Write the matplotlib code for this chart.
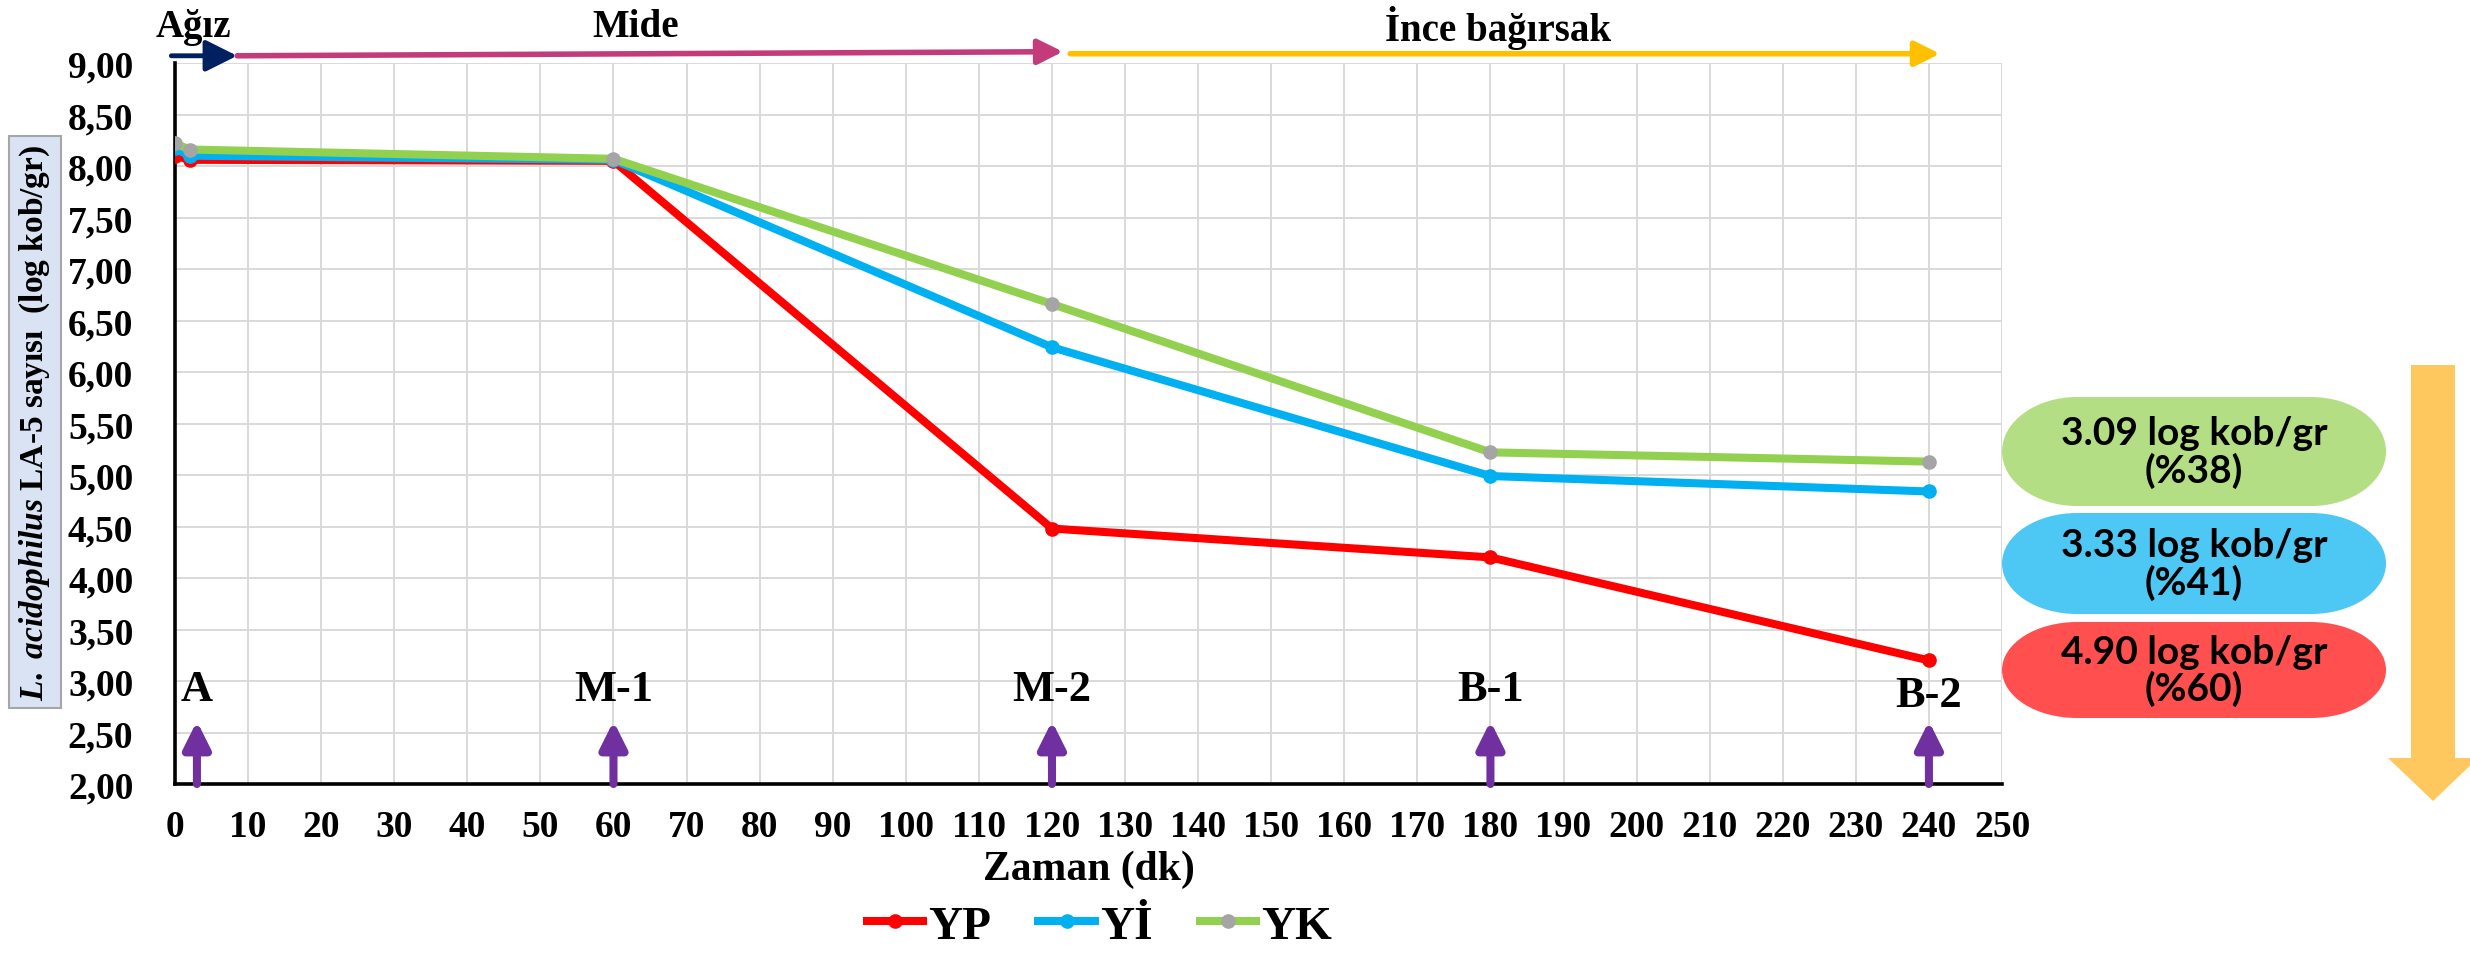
import numpy as np
import matplotlib
matplotlib.use("Agg")
from matplotlib import pyplot as plt
from matplotlib.lines import Line2D
from matplotlib.patches import Ellipse, Rectangle, Polygon

plt.rcParams["mathtext.fontset"] = "custom"
plt.rcParams["mathtext.it"] = "Liberation Serif:italic:bold"
plt.rcParams["mathtext.rm"] = "Liberation Serif:bold"

# sampling times (dk) and L. acidophilus LA-5 counts (log kob/gr)
zaman = [0, 2, 60, 120, 180, 240]
yp = [8.10, 8.06, 8.05, 4.48, 4.20, 3.20]
yi = [8.17, 8.10, 8.06, 6.24, 4.99, 4.84]
yk = [8.22, 8.16, 8.07, 6.66, 5.22, 5.13]

seri_adlari = ["YP", "Yİ", "YK"]
asama_x = [3, 60, 120, 180, 240]
asama_adi = ["A", "M-1", "M-2", "B-1", "B-2"]
kutu_metin = ["3.09 log kob/gr\n(%38)", "3.33 log kob/gr\n(%41)", "4.90 log kob/gr\n(%60)"]

xticks = np.arange(0, 251, 10)
yticks = np.arange(2.0, 9.01, 0.5)
ytick_labels = ["{:.2f}".format(v).replace(".", ",") for v in yticks]

serif = "Liberation Serif"
red, blue, green, grey = "#FF0000", "#00B0F0", "#92D050", "#A5A5A5"

W, H = 2470, 954
fig = plt.figure(figsize=(W / 100, H / 100), dpi=100)
ax = fig.add_axes([175 / W, 1 - 785 / H, (2002 - 175) / W, (785 - 64) / H])

lw, ms = 5.8, 9.5
ax.plot(zaman, yp, color=red, lw=lw, marker="o", ms=ms, zorder=3)
ax.plot(zaman, yi, color=blue, lw=lw, marker="o", ms=ms, zorder=4)
ax.plot(zaman, yk, color=green, lw=lw, marker="o", ms=ms, mfc=grey, mec=grey, zorder=5)

ax.set_xlim(0, 250)
ax.set_ylim(2, 9)
ax.set_xticks(xticks)
ax.set_yticks(yticks)
ax.set_yticklabels(ytick_labels)
ax.grid(True, color="#D9D9D9", lw=1.4)
ax.set_axisbelow(True)
for s in ["top", "right"]:
    ax.spines[s].set_visible(False)
for s in ["left", "bottom"]:
    ax.spines[s].set_linewidth(2.6)
ax.tick_params(length=0, labelsize=27, pad=18)
for lab in ax.get_xticklabels() + ax.get_yticklabels():
    lab.set_fontfamily(serif)
    lab.set_fontweight("bold")
ax.tick_params(axis="y", pad=30)

ax.set_xlabel("Zaman (dk)", fontsize=30, fontfamily=serif, fontweight="bold", labelpad=4)

# y label with box
fig.text(35 / W, 1 - 423 / H,
         r"$\mathit{L.\ acidophilus}$" + " LA-5 sayısı  (log kob/gr)",
         rotation=90, ha="center", va="center", fontsize=24,
         fontfamily=serif, fontweight="bold",
         bbox=dict(boxstyle="square,pad=0.25", fc="#DAE3F3", ec="#A6A6A6", lw=1.5))

# stage arrows (purple) and stage labels
for xv, ad in zip(asama_x, asama_adi):
    ax.annotate("", xy=(xv, 2.61), xytext=(xv, 2.0),
                arrowprops=dict(arrowstyle="-|>", color="#7030A0", lw=5.8,
                                mutation_scale=40, shrinkA=0, shrinkB=0),
                annotation_clip=False)
    yy = 2.86 if ad == "B-2" else 2.92
    ax.text(xv, yy, ad, ha="center", va="center", fontsize=32,
            fontfamily=serif, fontweight="bold")

# top region arrows
ax.annotate("", xy=(8.5, 9.07), xytext=(-0.5, 9.07),
            arrowprops=dict(arrowstyle="-|>", color="#002060", lw=3.5,
                            mutation_scale=48, shrinkA=0, shrinkB=0),
            annotation_clip=False)
ax.annotate("", xy=(121.5, 9.11), xytext=(8.5, 9.07),
            arrowprops=dict(arrowstyle="-|>", color="#C43B7C", lw=4,
                            mutation_scale=38, shrinkA=0, shrinkB=0),
            annotation_clip=False)
ax.annotate("", xy=(241.5, 9.09), xytext=(122.5, 9.09),
            arrowprops=dict(arrowstyle="-|>", color="#FFC000", lw=4,
                            mutation_scale=38, shrinkA=0, shrinkB=0),
            annotation_clip=False)
for xv, t in zip([2.5, 63, 181], ["Ağız", "Mide", "İnce bağırsak"]):
    ax.text(xv, 9.35, t, ha="center", va="center", fontsize=28,
            fontfamily=serif, fontweight="bold", clip_on=False)

# right-hand overlay: pills and orange arrow
ov = fig.add_axes([0, 0, 1, 1], zorder=-1)
ov.set_xlim(0, W)
ov.set_ylim(0, H)
ov.axis("off")
pills = [(398, 507, "#B3DE83"), (514, 615, "#4DC7F3"), (623, 719, "#FF4F4F")]
x0, x1, rx = 2002, 2386, 75
for (y0, y1, c), txt in zip(pills, kutu_metin):
    h = y1 - y0
    yc = H - (y0 + y1) / 2
    ov.add_patch(Rectangle((x0 + rx, H - y1), x1 - x0 - 2 * rx, h, fc=c, ec="none"))
    ov.add_patch(Ellipse((x0 + rx, yc), 2 * rx, h, fc=c, ec="none"))
    ov.add_patch(Ellipse((x1 - rx, yc), 2 * rx, h, fc=c, ec="none"))
    ov.text((x0 + x1) / 2, yc, txt, ha="center", va="center",
            fontsize=28, fontfamily="Lato", fontweight="bold", linespacing=1.05)
ov.add_patch(Polygon([(2411, H - 366), (2455, H - 366), (2455, H - 759),
                      (2478, H - 759), (2433, H - 802), (2388, H - 759),
                      (2411, H - 759)], closed=True, fc="#FFC85E", ec="none"))

handles = [Line2D([], [], color=red, lw=lw, marker="o", ms=ms),
           Line2D([], [], color=blue, lw=lw, marker="o", ms=ms),
           Line2D([], [], color=green, lw=lw, marker="o", ms=ms, mfc=grey, mec=grey)]
fig.legend(handles, seri_adlari, loc="center", bbox_to_anchor=(0.445, 0.028),
           ncol=3, frameon=False, handlelength=1.2, handletextpad=0.1,
           columnspacing=1.0, prop=dict(family=serif, weight="bold", size=34))

fig.savefig("out.png", dpi=100)
